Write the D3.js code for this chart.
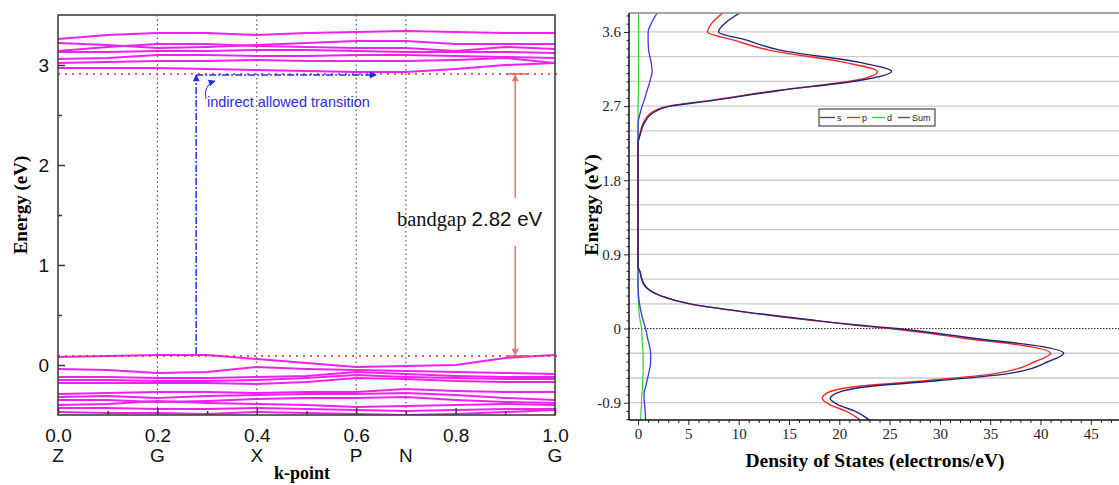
<!DOCTYPE html>
<html>
<head>
<meta charset="utf-8">
<script src="https://cdn.jsdelivr.net/npm/d3@7"></script>
<style>
body { margin: 0; background: #fff; }
svg { display: block; }
</style>
</head>
<body>
<script>
// ---- band structure (left) ----
var kPoints = [0, 0.1, 0.2, 0.3, 0.4, 0.5, 0.6, 0.7, 0.8, 0.9, 1.0];
var conductionBands = [
  [3.26, 3.30, 3.32, 3.32, 3.30, 3.32, 3.33, 3.34, 3.33, 3.32, 3.32],
  [3.22, 3.20, 3.17, 3.18, 3.20, 3.22, 3.24, 3.24, 3.21, 3.21, 3.21],
  [3.14, 3.18, 3.21, 3.21, 3.19, 3.18, 3.17, 3.17, 3.14, 3.18, 3.16],
  [3.13, 3.13, 3.14, 3.14, 3.15, 3.15, 3.14, 3.13, 3.13, 3.13, 3.12],
  [3.06, 3.07, 3.10, 3.10, 3.09, 3.09, 3.10, 3.10, 3.09, 3.08, 3.07],
  [3.02, 3.03, 3.04, 3.04, 3.05, 3.04, 3.04, 3.04, 3.05, 3.07, 3.02],
  [2.97, 2.97, 2.97, 2.96, 2.95, 2.94, 2.93, 2.93, 2.96, 3.00, 3.02]
];
var valenceBands = [
  [0.08, 0.09, 0.10, 0.10, 0.06, 0.02, -0.02, -0.01, 0.00, 0.07, 0.10],
  [-0.04, -0.05, -0.08, -0.07, -0.02, -0.04, -0.05, -0.06, -0.07, -0.08, -0.09],
  [-0.12, -0.12, -0.13, -0.13, -0.12, -0.11, -0.07, -0.09, -0.11, -0.12, -0.12],
  [-0.15, -0.15, -0.16, -0.16, -0.15, -0.13, -0.10, -0.12, -0.13, -0.14, -0.14],
  [-0.18, -0.18, -0.18, -0.18, -0.19, -0.17, -0.13, -0.14, -0.16, -0.17, -0.17],
  [-0.29, -0.28, -0.27, -0.27, -0.28, -0.27, -0.27, -0.24, -0.26, -0.27, -0.27],
  [-0.32, -0.31, -0.33, -0.31, -0.30, -0.29, -0.29, -0.28, -0.30, -0.33, -0.35],
  [-0.35, -0.35, -0.37, -0.36, -0.34, -0.33, -0.33, -0.32, -0.35, -0.37, -0.38],
  [-0.40, -0.39, -0.36, -0.38, -0.39, -0.40, -0.42, -0.41, -0.40, -0.39, -0.40],
  [-0.43, -0.43, -0.44, -0.44, -0.43, -0.44, -0.45, -0.46, -0.45, -0.44, -0.44],
  [-0.47, -0.48, -0.48, -0.49, -0.47, -0.48, -0.49, -0.50, -0.49, -0.47, -0.45]
];
var kTickValues = [0, 0.2, 0.4, 0.6, 0.8, 1.0];
var kMinorTicks = [0.1, 0.3, 0.5, 0.7, 0.9];
var symmetryLabels = ["Z", "G", "X", "P", "N", "G"];
var symmetryPos = [0, 0.2, 0.4, 0.6, 0.7, 1.0];
var symmetryLines = [0.2, 0.4, 0.6, 0.7];
var energyTicks = [0, 1, 2, 3];
var energyMinor = [0.5, 1.5, 2.5];
var vbm = 0.09, cbm = 2.91;
var transitionK = [0.278, 0.64];
var gapK = 0.92;

// ---- density of states (right) ----
var dosEnergy = [-1.11, -1.00, -0.92, -0.85, -0.78, -0.71, -0.63, -0.55, -0.40, -0.30, -0.22, -0.12, 0, 0.04, 0.10, 0.20, 0.30, 0.40, 0.50, 0.63, 0.69, 0.75, 1.2, 1.8, 2.25, 2.37, 2.49, 2.61, 2.70, 2.77, 2.89, 3.01, 3.12, 3.23, 3.38, 3.50, 3.60, 3.70, 3.83];
var dosSum = [23.0, 21.5, 19.8, 19.1, 19.8, 22.5, 30.0, 36.6, 40.8, 42.3, 40.2, 33.5, 25.7, 22.1, 17.5, 10.8, 5.2, 2.2, 0.8, 0.3, 0.2, 0, 0, 0, 0, 0.25, 0.6, 1.4, 3.2, 7.5, 14.1, 22.0, 25.2, 22.0, 14.1, 10.8, 8.0, 8.6, 10.1];
var dosP = [22.1, 20.6, 19.0, 18.3, 18.8, 21.3, 28.8, 35.3, 39.5, 41.0, 39.0, 32.5, 25.0, 21.6, 17.2, 10.6, 5.1, 2.2, 0.8, 0.3, 0.2, 0, 0, 0, 0, 0.2, 0.5, 1.2, 3.0, 7.2, 13.8, 21.5, 23.8, 20.5, 13.0, 9.5, 6.9, 7.3, 8.4];
var dosS = [0.75, 0.7, 0.65, 0.6, 0.6, 0.75, 0.9, 1.05, 1.25, 1.25, 1.15, 0.95, 0.75, 0.65, 0.5, 0.3, 0.15, 0.05, 0, 0, 0, 0, 0, 0, 0, 0, 0, 0.2, 0.4, 0.6, 0.9, 1.2, 1.4, 1.3, 1.05, 1.0, 1.0, 1.3, 1.9];
var dosD = [0.25, 0.3, 0.35, 0.35, 0.4, 0.45, 0.45, 0.5, 0.5, 0.5, 0.45, 0.4, 0.35, 0.3, 0.2, 0.1, 0.05, 0, 0, 0, 0, 0, 0, 0, 0, 0, 0, 0, 0, 0.02, 0.04, 0.05, 0.05, 0.05, 0.05, 0.05, 0.05, 0.05, 0.05];
var dosEnergyTicks = [-0.9, 0, 0.9, 1.8, 2.7, 3.6];
var dosXTicks = [0, 5, 10, 15, 20, 25, 30, 35, 40, 45];
var legendNames = ["s", "p", "d", "Sum"];
var legendColors = ["#3a3ae0", "#f03030", "#30d030", "#505050"];

var svg = d3.select("body").append("svg").attr("width", 1119).attr("height", 485);
var defs = svg.append("defs");

function marker(id, color) {
  defs.append("marker").attr("id", id)
    .attr("viewBox", "0 0 10 10").attr("refX", 9).attr("refY", 5)
    .attr("markerUnits", "userSpaceOnUse")
    .attr("markerWidth", 10).attr("markerHeight", 7)
    .attr("orient", "auto-start-reverse")
    .append("path").attr("d", "M0,0 L10,5 L0,10 z").attr("fill", color);
}
marker("arrBlue", "#2030e0");
marker("arrRed", "#f07070");

// ================= left panel =================
var bx = d3.scaleLinear().domain([0, 1]).range([58, 555]);
var by = d3.scaleLinear().domain([-0.5, 3.5]).range([415, 15]);

defs.append("clipPath").attr("id", "clipBand")
  .append("rect").attr("x", 58).attr("y", 15).attr("width", 497).attr("height", 400);

var left = svg.append("g");

left.selectAll(".sym").data(symmetryLines).enter().append("line")
  .attr("x1", function(d) { return bx(d); }).attr("x2", function(d) { return bx(d); })
  .attr("y1", 15).attr("y2", 415)
  .attr("stroke", "#333").attr("stroke-width", 1).attr("stroke-dasharray", "1.5,3");

var bandLine = d3.line()
  .x(function(d, i) { return bx(kPoints[i]); })
  .y(function(d) { return by(d); });

left.append("g").attr("clip-path", "url(#clipBand)")
  .selectAll("path").data(conductionBands.concat(valenceBands)).enter().append("path")
  .attr("d", bandLine)
  .attr("fill", "none").attr("stroke", "#f020f0").attr("stroke-width", 2);

// band edges
left.selectAll(".edge").data([vbm, cbm]).enter().append("line")
  .attr("x1", 58).attr("x2", 558)
  .attr("y1", function(d) { return by(d); }).attr("y2", function(d) { return by(d); })
  .attr("stroke", "#e02828").attr("stroke-width", 1.3).attr("stroke-dasharray", "2,5");

// indirect transition
var tx0 = bx(transitionK[0]), tx1 = bx(transitionK[1]);
left.append("line").attr("x1", tx0).attr("x2", tx0)
  .attr("y1", by(vbm) - 2).attr("y2", by(cbm) + 1)
  .attr("stroke", "#2030e0").attr("stroke-width", 1.5).attr("stroke-dasharray", "7,2,2,2")
  .attr("marker-end", "url(#arrBlue)");
left.append("line").attr("x1", tx0).attr("x2", tx1)
  .attr("y1", by(cbm) + 1).attr("y2", by(cbm) + 1)
  .attr("stroke", "#2030e0").attr("stroke-width", 1.5).attr("stroke-dasharray", "7,2,2,2")
  .attr("marker-end", "url(#arrBlue)");
left.append("path").attr("d", "M206,99 Q203,85 215,81")
  .attr("fill", "none").attr("stroke", "#2030e0").attr("stroke-width", 1)
  .attr("marker-end", "url(#arrBlue)");
left.append("text").attr("x", 207).attr("y", 107)
  .attr("font-family", "Liberation Sans").attr("font-size", 14.5)
  .attr("fill", "#2b2bd6").text("indirect allowed transition");

// band gap arrow
var gx = bx(gapK);
left.selectAll(".cap").data([vbm, cbm]).enter().append("line")
  .attr("x1", gx - 9).attr("x2", gx + 12)
  .attr("y1", function(d) { return by(d); }).attr("y2", function(d) { return by(d); })
  .attr("stroke", "#f05050").attr("stroke-width", 1.5);
left.append("line").attr("x1", gx).attr("x2", gx).attr("y1", by(cbm) + 1).attr("y2", 198)
  .attr("stroke", "#f07070").attr("stroke-width", 1.5).attr("marker-start", "url(#arrRed)");
left.append("line").attr("x1", gx).attr("x2", gx).attr("y1", 246).attr("y2", by(vbm) - 1)
  .attr("stroke", "#f07070").attr("stroke-width", 1.5).attr("marker-end", "url(#arrRed)");
var bg = left.append("text").attr("x", 397).attr("y", 226).attr("font-size", 20.5).attr("fill", "#111");
bg.append("tspan").attr("font-family", "Liberation Serif").text("bandgap ");
bg.append("tspan").attr("font-family", "Liberation Sans").text("2.82 eV");

// axes
var bxAxis = left.append("g").attr("transform", "translate(0,415)")
  .call(d3.axisBottom(bx).tickValues(kTickValues).tickSize(-7).tickPadding(14)
    .tickFormat(d3.format(".1f")));
left.append("g").attr("transform", "translate(0,415)")
  .call(d3.axisBottom(bx).tickValues(kMinorTicks).tickSize(-4).tickFormat(""));
var byAxis = left.append("g").attr("transform", "translate(58,0)")
  .call(d3.axisLeft(by).tickValues(energyTicks).tickSize(-7).tickPadding(9)
    .tickFormat(d3.format("d")));
left.append("g").attr("transform", "translate(58,0)")
  .call(d3.axisLeft(by).tickValues(energyMinor).tickSize(-4).tickFormat(""));
left.selectAll(".domain").remove();
left.selectAll(".tick line").attr("stroke", "#333").attr("stroke-width", 1.5);
[bxAxis, byAxis].forEach(function(a) {
  a.selectAll("text").attr("font-family", "Liberation Sans").attr("font-size", 19).attr("fill", "#111");
});
left.append("rect").attr("x", 58).attr("y", 15).attr("width", 497).attr("height", 400)
  .attr("fill", "none").attr("stroke", "#404040").attr("stroke-width", 1.6);

left.selectAll(".symlab").data(symmetryLabels).enter().append("text")
  .attr("x", function(d, i) { return bx(symmetryPos[i]); }).attr("y", 462)
  .attr("text-anchor", "middle").attr("font-family", "Liberation Sans").attr("font-size", 19)
  .attr("fill", "#111").text(function(d) { return d; });

left.append("text").attr("x", 302).attr("y", 479).attr("text-anchor", "middle")
  .attr("font-family", "Liberation Serif").attr("font-weight", "bold").attr("font-size", 18)
  .text("k-point");
left.append("text").attr("transform", "translate(27,205) rotate(-90)").attr("text-anchor", "middle")
  .attr("font-family", "Liberation Serif").attr("font-weight", "bold").attr("font-size", 19)
  .text("Energy (eV)");

// ================= right panel =================
var dx = d3.scaleLinear().domain([-0.9, 48]).range([629, 1121]);
var dy = d3.scaleLinear().domain([-1.11, 3.83]).range([420, 13]);
var right = svg.append("g");

var grid = d3.range(-3, 13).map(function(i) { return +(i * 0.3).toFixed(1); });
right.selectAll(".grid").data(grid.filter(function(d) { return d !== 0; })).enter().append("line")
  .attr("x1", 629).attr("x2", 1119)
  .attr("y1", function(d) { return dy(d); }).attr("y2", function(d) { return dy(d); })
  .attr("stroke", "#cacaca").attr("stroke-width", 1.3);
right.append("line").attr("x1", 629).attr("x2", 1119).attr("y1", dy(0)).attr("y2", dy(0))
  .attr("stroke", "#222").attr("stroke-width", 1).attr("stroke-dasharray", "1.5,1.5");

defs.append("clipPath").attr("id", "clipDos")
  .append("rect").attr("x", 629).attr("y", 13).attr("width", 490).attr("height", 407);

function dosLine(vals) {
  return d3.line().curve(d3.curveMonotoneY)
    .x(function(d, i) { return dx(vals[i]); })
    .y(function(d) { return dy(d); })(dosEnergy);
}
var curves = right.append("g").attr("clip-path", "url(#clipDos)");
[[dosD, "#30d030", 1.2], [dosS, "#3a3ae0", 1.3], [dosP, "#f02828", 1.4], [dosSum, "#20247a", 1.4]]
  .forEach(function(c) {
    curves.append("path").attr("d", dosLine(c[0]))
      .attr("fill", "none").attr("stroke", c[1]).attr("stroke-width", c[2]);
  });

right.append("line").attr("x1", 629).attr("x2", 1119).attr("y1", 13).attr("y2", 13)
  .attr("stroke", "#888").attr("stroke-width", 1.5);

var dxAxis = right.append("g").attr("transform", "translate(0,420)")
  .call(d3.axisBottom(dx).tickValues(dosXTicks).tickSize(5).tickPadding(3));
right.append("g").attr("transform", "translate(0,420)")
  .call(d3.axisBottom(dx).tickValues(d3.range(1, 48).filter(function(d) { return d % 5; }))
    .tickSize(3).tickFormat(""));
var dyAxis = right.append("g").attr("transform", "translate(629,0)")
  .call(d3.axisLeft(dy).tickValues(dosEnergyTicks).tickSize(5).tickPadding(3)
    .tickFormat(function(d) { return d === 0 ? "0" : d.toFixed(1); }));
right.append("g").attr("transform", "translate(629,0)")
  .call(d3.axisLeft(dy).tickValues(d3.range(-11, 39).map(function(i) { return i / 10; })
    .filter(function(d) { return Math.round(d * 10) % 9 !== 0; }))
    .tickSize(2.5).tickFormat(""));
right.selectAll(".domain").remove();
right.selectAll(".tick line").attr("stroke", "#222");
[dxAxis, dyAxis].forEach(function(a) {
  a.selectAll("text").attr("font-family", "Liberation Serif").attr("font-size", 15).attr("fill", "#222");
});
right.append("line").attr("x1", 629).attr("x2", 629).attr("y1", 13).attr("y2", 420)
  .attr("stroke", "#111").attr("stroke-width", 1.5);
right.append("line").attr("x1", 629).attr("x2", 1119).attr("y1", 420).attr("y2", 420)
  .attr("stroke", "#111").attr("stroke-width", 1.5);

// legend
var lg = right.append("g");
lg.append("rect").attr("x", 819).attr("y", 109).attr("width", 116).attr("height", 17)
  .attr("fill", "#fff").attr("stroke", "#222").attr("stroke-width", 1);
var legX = [820, 847, 872, 898];
var legW = [15, 13, 13, 12];
legendNames.forEach(function(n, i) {
  lg.append("line").attr("x1", legX[i]).attr("x2", legX[i] + legW[i]).attr("y1", 117.5).attr("y2", 117.5)
    .attr("stroke", legendColors[i]).attr("stroke-width", 1.4);
  lg.append("text").attr("x", legX[i] + legW[i] + 2).attr("y", 120.5)
    .attr("font-family", "Liberation Sans").attr("font-size", 9).attr("fill", "#222").text(n);
});

right.append("text").attr("x", 875).attr("y", 467).attr("text-anchor", "middle")
  .attr("font-family", "Liberation Serif").attr("font-weight", "bold").attr("font-size", 19.5)
  .text("Density of States (electrons/eV)");
right.append("text").attr("transform", "translate(598,205) rotate(-90)").attr("text-anchor", "middle")
  .attr("font-family", "Liberation Serif").attr("font-weight", "bold").attr("font-size", 19.5)
  .text("Energy (eV)");
</script>
</body>
</html>
